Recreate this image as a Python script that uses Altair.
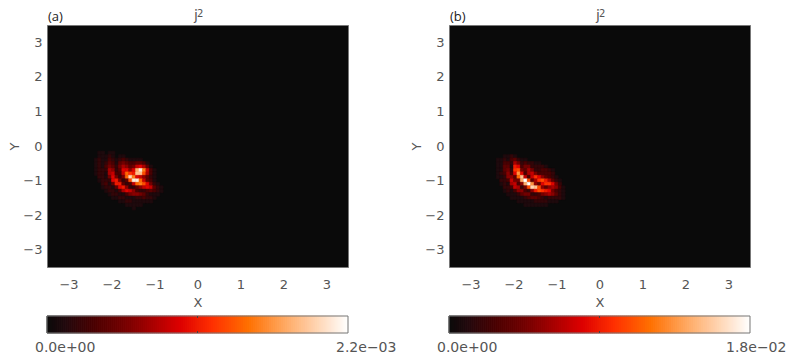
import altair as alt
import pandas as pd

X_START = -2.6
X_STEP = 0.08
Y_START = 0.0
Y_STEP = 0.1
MAX_LEVEL = 20
TICKS = [-3, -2, -1, 0, 1, 2, 3]

LEVELS_A = [
 [0,0,0,0,0,0,0,0,0,0,0,0,0,0,0,0,0,0,0,0,0,0,0,0,0,0,0,0,0,0,0,0,0],
 [0,0,0,0,0,0,0,0,0,0,0,0,0,0,0,0,0,0,0,0,0,0,0,0,0,0,0,0,0,0,0,0,0],
 [0,0,0,0,1,1,0,1,1,0,0,0,0,0,0,0,0,0,0,0,0,0,0,0,0,0,0,0,0,0,0,0,0],
 [0,0,0,0,1,1,1,2,1,0,1,1,0,0,0,0,0,0,0,0,0,0,0,0,0,0,0,0,0,0,0,0,0],
 [0,0,0,1,2,1,1,3,2,1,2,3,2,1,1,1,1,0,0,0,0,0,0,0,0,0,0,0,0,0,0,0,0],
 [0,0,0,1,2,1,2,4,3,1,4,5,4,3,3,4,4,3,1,0,0,0,0,0,0,0,0,0,0,0,0,0,0],
 [0,0,0,1,2,1,3,5,4,2,5,7,6,4,5,8,9,7,4,1,0,0,0,0,0,0,0,0,0,0,0,0,0],
 [0,0,0,1,2,2,2,7,6,2,4,9,9,6,9,16,19,14,8,3,1,0,0,0,0,0,0,0,0,0,0,0,0],
 [0,0,0,1,2,2,1,7,8,3,3,8,13,11,10,17,17,12,7,3,1,0,0,0,0,0,0,0,0,0,0,0,0],
 [0,0,0,0,2,2,1,5,9,5,2,5,13,18,14,9,8,6,4,2,1,0,0,0,0,0,0,0,0,0,0,0,0],
 [0,0,0,0,1,2,2,2,9,10,5,2,4,12,19,19,13,8,4,3,1,0,0,0,0,0,0,0,0,0,0,0,0],
 [0,0,0,0,0,2,3,1,4,10,10,4,2,3,8,13,14,12,9,5,2,1,0,0,0,0,0,0,0,0,0,0,0],
 [0,0,0,0,0,1,2,2,1,4,9,10,6,2,2,4,6,8,9,8,4,2,1,0,0,0,0,0,0,0,0,0,0],
 [0,0,0,0,0,0,1,2,2,1,3,7,9,8,6,3,2,2,3,4,3,2,1,0,0,0,0,0,0,0,0,0,0],
 [0,0,0,0,0,0,0,1,2,2,1,1,3,5,6,6,5,4,2,1,1,1,0,0,0,0,0,0,0,0,0,0,0],
 [0,0,0,0,0,0,0,0,1,1,2,2,1,1,1,2,2,3,2,2,1,0,0,0,0,0,0,0,0,0,0,0,0],
 [0,0,0,0,0,0,0,0,0,0,1,1,2,2,1,1,1,1,1,1,0,0,0,0,0,0,0,0,0,0,0,0,0],
 [0,0,0,0,0,0,0,0,0,0,0,0,1,1,1,1,1,0,0,0,0,0,0,0,0,0,0,0,0,0,0,0,0],
 [0,0,0,0,0,0,0,0,0,0,0,0,0,0,1,0,0,0,0,0,0,0,0,0,0,0,0,0,0,0,0,0,0],
]

LEVELS_B = [
 [0,0,0,0,0,0,0,0,0,0,0,0,0,0,0,0,0,0,0,0,0,0,0,0,0,0,0,0,0,0,0,0,0],
 [0,0,0,0,0,0,0,0,0,0,0,0,0,0,0,0,0,0,0,0,0,0,0,0,0,0,0,0,0,0,0,0,0],
 [0,0,0,0,0,0,0,0,0,0,0,0,0,0,0,0,0,0,0,0,0,0,0,0,0,0,0,0,0,0,0,0,0],
 [0,0,0,0,0,1,1,2,1,0,0,0,0,0,0,0,0,0,0,0,0,0,0,0,0,0,0,0,0,0,0,0,0],
 [0,0,0,1,1,2,1,3,4,2,1,1,0,0,0,0,0,0,0,0,0,0,0,0,0,0,0,0,0,0,0,0,0],
 [0,0,0,1,1,3,3,2,7,5,2,3,2,2,1,1,0,0,0,0,0,0,0,0,0,0,0,0,0,0,0,0,0],
 [0,0,0,1,1,4,4,1,10,9,3,5,5,2,2,2,2,1,0,0,0,0,0,0,0,0,0,0,0,0,0,0,0],
 [0,0,0,1,1,4,5,2,11,12,5,4,7,5,2,2,3,3,2,1,0,0,0,0,0,0,0,0,0,0,0,0,0],
 [0,0,0,1,2,3,6,3,9,15,9,3,7,8,5,3,3,3,3,2,0,0,0,0,0,0,0,0,0,0,0,0,0],
 [0,0,0,1,1,2,6,6,4,13,17,8,3,8,11,9,6,4,3,2,1,0,0,0,0,0,0,0,0,0,0,0,0],
 [0,0,0,0,2,2,3,8,5,5,16,20,12,4,7,11,12,10,7,4,2,1,0,0,0,0,0,0,0,0,0,0,0],
 [0,0,0,0,1,2,1,7,8,3,6,16,20,15,6,4,9,11,11,9,5,2,0,0,0,0,0,0,0,0,0,0,0],
 [0,0,0,0,0,2,2,3,8,7,2,5,12,18,17,12,6,4,6,7,6,3,1,0,0,0,0,0,0,0,0,0,0],
 [0,0,0,0,0,1,2,1,3,6,6,3,2,6,10,12,11,10,9,5,3,2,1,0,0,0,0,0,0,0,0,0,0],
 [0,0,0,0,0,0,1,1,1,2,4,5,5,2,2,3,5,6,7,6,4,2,1,0,0,0,0,0,0,0,0,0,0],
 [0,0,0,0,0,0,0,1,1,1,1,2,3,4,4,3,2,1,2,2,2,2,1,0,0,0,0,0,0,0,0,0,0],
 [0,0,0,0,0,0,0,0,0,1,1,1,1,1,2,2,2,2,1,1,1,0,0,0,0,0,0,0,0,0,0,0,0],
 [0,0,0,0,0,0,0,0,0,0,0,1,1,1,1,1,1,1,0,0,0,0,0,0,0,0,0,0,0,0,0,0,0],
 [0,0,0,0,0,0,0,0,0,0,0,0,0,0,0,0,0,0,0,0,0,0,0,0,0,0,0,0,0,0,0,0,0],
]

COLOR_STOPS = [0, 0.06, 0.17, 0.28, 0.44, 0.55, 0.67, 0.81, 1]
COLORS = ["#0a0a0a", "#220a0e", "#500000", "#800000", "#dc0000", "#ff3000", "#ff7000", "#ffb070", "#ffffff"]
BAR_CELLS = 150
TEXT = "#555555"
FONT = "DejaVu Sans"
FRAME = "#777777"
SCALE_X = alt.Scale(domain=[-3.5, 3.5], nice=False, zero=False)
SCALE_Y = alt.Scale(domain=[-3.5, 3.5], nice=False, zero=False)


def ramp(t):
    for i in range(len(COLOR_STOPS) - 1):
        a, b = COLOR_STOPS[i], COLOR_STOPS[i + 1]
        if t <= b:
            f = (t - a) / (b - a)
            c0 = [int(COLORS[i][j:j + 2], 16) for j in (1, 3, 5)]
            c1 = [int(COLORS[i + 1][j:j + 2], 16) for j in (1, 3, 5)]
            return "#%02x%02x%02x" % tuple(round(p + (q - p) * f) for p, q in zip(c0, c1))
    return COLORS[-1]


def cells(levels):
    rows = []
    for r, row in enumerate(levels):
        for k, v in enumerate(row):
            if v == 0:
                continue
            x = X_START + k * X_STEP
            y = Y_START - r * Y_STEP
            rows.append({"x": x - X_STEP / 2, "x2": x + X_STEP / 2,
                         "y": y - Y_STEP / 2, "y2": y + Y_STEP / 2,
                         "c": ramp(v / MAX_LEVEL)})
    return pd.DataFrame(rows)


def bar_cells():
    w = 7 / BAR_CELLS
    return pd.DataFrame([{"x": -3.5 + i * w, "x2": -3.5 + (i + 1) * w,
                          "c": ramp((i + 0.5) / BAR_CELLS)}
                         for i in range(BAR_CELLS)])


def note(text, px, py, size=14, font=FONT, color=TEXT, align="left"):
    return alt.Chart(pd.DataFrame({"t": [text]})).mark_text(
        text=text, font=font, fontSize=size, color=color, align=align, baseline="middle"
    ).encode(x=alt.value(px), y=alt.value(py))


def mid_tick(top, bottom):
    return alt.Chart(pd.DataFrame({"x": [0]})).mark_rule(color="#444444", strokeWidth=1).encode(
        x=alt.X("x:Q", scale=SCALE_X), y=alt.value(top), y2=alt.value(bottom))


def panel(levels, tag, low, high, high_x):
    rect = alt.Chart(cells(levels)).mark_rect(strokeWidth=0.6).encode(
        x=alt.X("x:Q", scale=SCALE_X,
                axis=alt.Axis(values=TICKS, title="X", format="d", grid=False, domain=False,
                              ticks=False, labelFont=FONT, labelFontSize=13, labelColor=TEXT,
                              labelPadding=11, titleFont=FONT, titleFontSize=13, titleColor=TEXT,
                              titleFontWeight="normal", titlePadding=5)),
        x2="x2:Q",
        y=alt.Y("y:Q", scale=SCALE_Y,
                axis=alt.Axis(values=TICKS, title="Y", format="d", grid=False, domain=False,
                              ticks=False, labelFont=FONT, labelFontSize=13, labelColor=TEXT,
                              labelPadding=5, titleFont=FONT, titleFontSize=13, titleColor=TEXT,
                              titleFontWeight="normal", titlePadding=1)),
        y2="y2:Q",
        color=alt.Color("c:N", scale=None),
        stroke=alt.Stroke("c:N", scale=None),
    )
    bar = alt.Chart(bar_cells()).mark_rect(strokeWidth=1).encode(
        x=alt.X("x:Q", scale=SCALE_X), x2="x2:Q",
        y=alt.value(291), y2=alt.value(308),
        color=alt.Color("c:N", scale=None),
        stroke=alt.Stroke("c:N", scale=None),
    )
    frame = alt.Chart(pd.DataFrame({"x": [-3.5], "x2": [3.5]})).mark_rect(
        fillOpacity=0, stroke=FRAME, strokeWidth=1
    ).encode(x=alt.X("x:Q", scale=SCALE_X), x2="x2:Q", y=alt.value(291), y2=alt.value(308))
    return alt.layer(
        rect, bar, frame, mid_tick(291, 293), mid_tick(306, 308),
        note(tag, 1, -8, size=13, font="Open Sans", color="#222222"),
        note("j", 147, -9, size=14),
        note("2", 150, -11, size=10),
        note(low, -12, 322.5, size=14),
        note(high, high_x, 322.5, size=14),
    ).properties(width=301, height=242)


chart = alt.hconcat(
    panel(LEVELS_A, "(a)", "0.0e+00", "2.2e\u221203", 289),
    panel(LEVELS_B, "(b)", "0.0e+00", "1.8e\u221202", 277),
    spacing=101, bounds="flush",
).configure_view(
    fill="#0a0a0a", stroke=FRAME, strokeWidth=1
).properties(padding=0, background="white")

chart.save("out.html", embed_options={"renderer": "svg", "actions": False})
